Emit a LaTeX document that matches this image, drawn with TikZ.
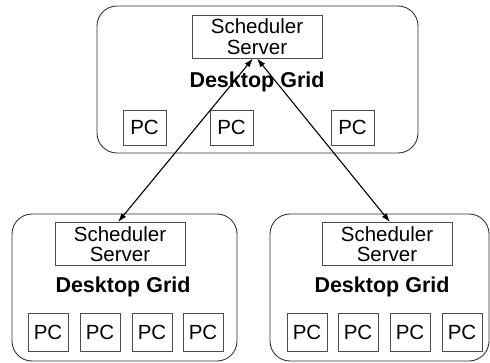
\documentclass[tikz,border=0pt]{standalone}
\usepackage{fontspec}
\setmainfont{Liberation Sans}
\usetikzlibrary{arrows.meta}
\tikzset{>={Latex[length=9pt,width=6pt]}}
\tikzset{
  grid/.style={draw=black!80, line width=0.9pt, rounded corners=20pt, minimum height=147pt},
  sched/.style={draw=black!70, line width=0.8pt, minimum width=130pt, minimum height=43pt,
    align=center, font=\fontsize{20.5}{20.5}\selectfont, inner sep=0pt},
  pcbox/.style={draw=black!70, line width=0.8pt, minimum width=40pt, minimum height=38pt,
    font=\fontsize{20.5}{21}\selectfont, inner sep=0pt},
  title/.style={font=\fontsize{21.5}{23}\selectfont\bfseries, inner sep=0pt}
}

\begin{document}
\begin{tikzpicture}[x=1pt, y=-1pt]
\useasboundingbox (0,0) rectangle (490,363);
% containers
\node[grid, minimum width=321pt] (gt) at (257.5,79.5) {};
\node[grid, minimum width=225pt] (gl) at (124.5,287.5) {};
\node[grid, minimum width=219pt] (gr) at (379.5,287.5) {};
% scheduler servers
\node[sched] (st) at (257,36.5) {Scheduler\\Server};
\node[sched] (sl) at (120,244) {Scheduler\\Server};
\node[sched] (sr) at (387,244) {Scheduler\\Server};
% titles
\node[title] (tt) at (257,82) {Desktop Grid};
\node[title] (tl) at (123,287) {Desktop Grid};
\node[title] (tr) at (382,287) {Desktop Grid};
% PCs, top grid
\node[pcbox, minimum width=43pt, minimum height=35pt] (pt1) at (144.5,127.5) {PC};
\node[pcbox, minimum width=43pt, minimum height=35pt] (pt2) at (231.5,127.5) {PC};
\node[pcbox, minimum width=43pt, minimum height=35pt] (pt3) at (352.5,127.5) {PC};
% PCs, lower grids
\foreach \i/\x in {1/48, 2/100, 3/152, 4/203}
  \node[pcbox] (pl\i) at (\x,332.5) {PC};
\foreach \i/\x in {1/307, 2/358, 3/410, 4/462}
  \node[pcbox] (pr\i) at (\x,332.5) {PC};
% links
\draw[<->, line width=1.1pt] ([xshift=-2pt]sl.north) -- ([xshift=-4pt]st.south);
\draw[<->, line width=1.1pt] ([xshift=3pt]sr.north) -- ([xshift=0pt]st.south);
\end{tikzpicture}
\end{document}
